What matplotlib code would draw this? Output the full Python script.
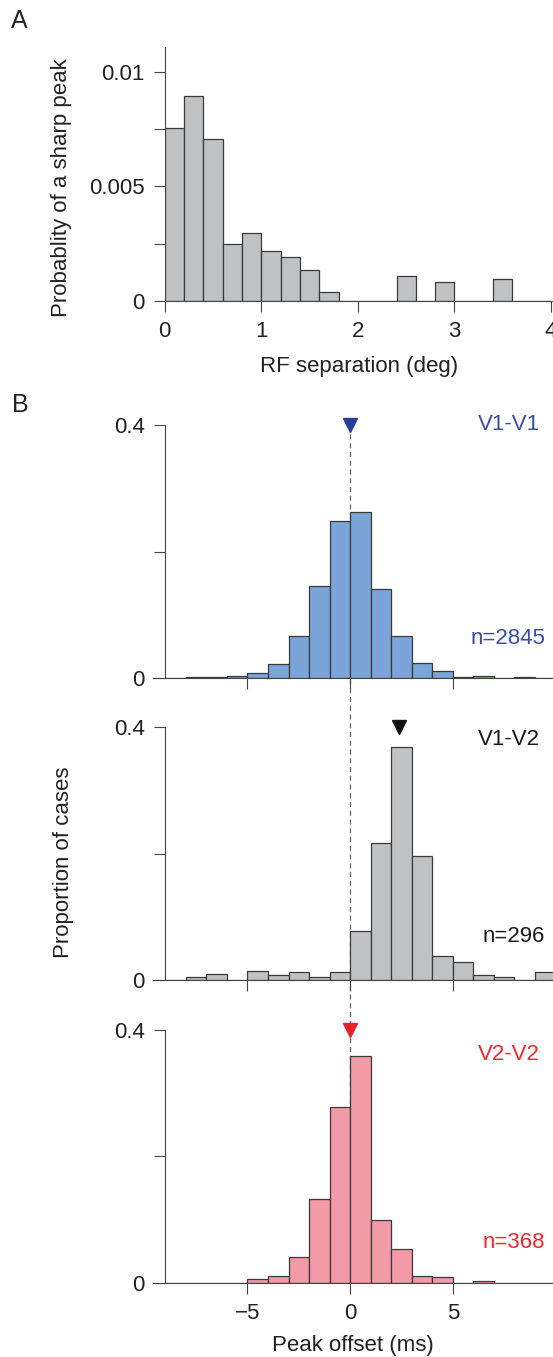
import numpy as np
import matplotlib
matplotlib.use('Agg')
import matplotlib.pyplot as plt
from matplotlib.lines import Line2D

plt.rcParams['font.family'] = ['Liberation Sans', 'DejaVu Sans']

# A: probability of a sharp peak vs RF separation (0.2 deg bins)
sep_edges = np.arange(0, 4.0, 0.2)
sep_prob = [0.00753, 0.00894, 0.00705, 0.0025, 0.00298, 0.00219, 0.00193,
            0.00134, 0.00038, 0, 0, 0, 0.00108, 0, 0.00081, 0, 0, 0.00094, 0, 0]

# B: peak offset histograms (1 ms bins, left edges)
offset_edges = np.arange(-9, 10)
v1v1 = [0, 0.001, 0.001, 0.003, 0.008, 0.022, 0.067, 0.145, 0.249, 0.262,
        0.141, 0.066, 0.024, 0.0105, 0.001, 0.003, 0, 0.001, 0]
v1v2 = [0, 0.005, 0.009, 0, 0.015, 0.008, 0.012, 0.005, 0.012, 0.078,
        0.216, 0.368, 0.196, 0.038, 0.029, 0.008, 0.005, 0, 0.012]
v2v2 = [0, 0, 0, 0, 0.006, 0.011, 0.040, 0.133, 0.278, 0.359,
        0.099, 0.054, 0.011, 0.009, 0, 0.003, 0, 0, 0]

pair_names = ['V1-V1', 'V1-V2', 'V2-V2']
pair_counts = ['n=2845', 'n=296', 'n=368']
pair_peaks = [0, 2.4, 0]
pair_fill = ['#7ba4d8', '#c0c1c3', '#f29aa6']
pair_text = ['#3a4ea8', '#1a1a1a', '#ee2a2f']
pair_marker = ['#2b3d96', '#111111', '#e8202a']

W, H = 553, 1357
fig = plt.figure(figsize=(W / 100, H / 100), dpi=100)

AXC = '#444444'
EDGE = '#3a3a3a'
FS = 16


def add_axes_px(left, top, right, bottom):
    return fig.add_axes([left / W, 1 - bottom / H, (right - left) / W, (bottom - top) / H])


def style(ax):
    for s in ['top', 'right']:
        ax.spines[s].set_visible(False)
    for s in ['left', 'bottom']:
        ax.spines[s].set_color(AXC)
        ax.spines[s].set_linewidth(0.8)
    ax.tick_params(direction='out', length=7.7, width=0.8, color=AXC,
                   pad=7, labelsize=FS, labelcolor='#222222')
    ax.patch.set_visible(False)


# ---- panel A ----
axA = add_axes_px(164.7, 46.6, 553, 301)
style(axA)
axA.bar(sep_edges, sep_prob, width=0.2, align='edge', color='#c0c1c3',
        edgecolor=EDGE, linewidth=0.9)
axA.set_xlim(0, 4.02)
axA.set_ylim(0, 0.0111)
axA.set_xticks([0, 1, 2, 3, 4])
axA.set_yticks([0, 0.0025, 0.005, 0.0075, 0.01])
axA.set_yticklabels(['0', '', '0.005', '', '0.01'])
axA.set_xlabel('RF separation (deg)', fontsize=FS, color='#222222', labelpad=10)
fig.text(62 / W, 1 - 188 / H, 'Probablity of a sharp peak', rotation=90,
         ha='center', va='center', fontsize=FS, color='#222222')
fig.text(19 / W, 1 - 21 / H, 'A', ha='center', va='center', fontsize=18, color='#222222')

# ---- panel B ----
zero_px = [678, 980, 1282.7]
scale = 632.5
name_y = [0.40, 0.38, 0.36]
count_y = [0.063, 0.068, 0.064]
axes_b = []
for i, (vals, z) in enumerate(zip([v1v1, v1v2, v2v2], zero_px)):
    ax = add_axes_px(153, z - 0.45 * scale, 553, z)
    style(ax)
    ax.bar(offset_edges, vals, width=1, align='edge', color=pair_fill[i],
           edgecolor=EDGE, linewidth=0.9, zorder=2)
    ax.set_xlim(-9.6, 9.88)
    ax.set_ylim(0, 0.45)
    ax.spines['left'].set_position(('data', -9))
    ax.spines['left'].set_bounds(0, 0.4)
    ax.set_yticks([0, 0.2, 0.4])
    ax.set_yticklabels(['0', '', '0.4'])
    ax.set_xticks([-5, 0, 5])
    if i < 2:
        ax.tick_params(labelbottom=False)
    ax.plot(pair_peaks[i], 0.4, marker='v', markersize=10, color=pair_marker[i],
            clip_on=False, zorder=5, linestyle='none')
    ax.text(9.25, name_y[i], pair_names[i], ha='right', va='center', fontsize=FS,
            color=pair_text[i])
    ax.text(9.5, count_y[i], pair_counts[i], ha='right', va='center', fontsize=FS,
            color=pair_text[i])
    axes_b.append(ax)

axes_b[-1].set_xlabel('Peak offset (ms)', fontsize=FS, color='#222222', labelpad=8)
fig.text(63 / W, 1 - 862 / H, 'Proportion of cases', rotation=90,
         ha='center', va='center', fontsize=FS, color='#222222')
fig.text(20 / W, 1 - 405 / H, 'B', ha='center', va='center', fontsize=18, color='#222222')

# dashed zero line running behind all three histograms
to_fig = fig.transFigure.inverted()
x0, y_top = to_fig.transform(axes_b[0].transData.transform((0, 0.385)))
_, y_bot = to_fig.transform(axes_b[2].transData.transform((0, 0)))
fig.add_artist(Line2D([x0, x0], [y_top, y_bot], transform=fig.transFigure,
                      color='#666666', linewidth=0.9, linestyle=(0, (4, 3)), zorder=-1))

fig.savefig('out.png', dpi=100)
